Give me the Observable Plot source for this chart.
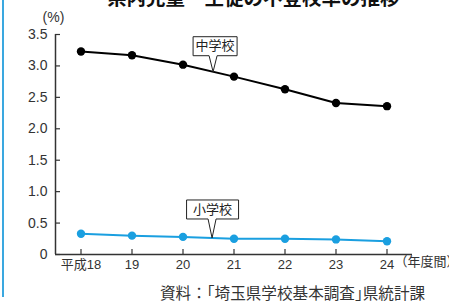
<!DOCTYPE html>
<html><head><meta charset="utf-8">
<script src="https://cdn.jsdelivr.net/npm/d3@7"></script>
<script src="https://cdn.jsdelivr.net/npm/@observablehq/plot@0.6"></script>
<style>
body{margin:0;width:449px;height:302px;overflow:hidden;position:relative;background:#fff;font-family:"Liberation Sans","Noto Sans CJK JP",sans-serif;}
#edge{position:absolute;left:2px;top:0;width:2px;height:297px;background:#3aa8e0;}
#title{position:absolute;left:107px;top:-18px;font-weight:bold;font-size:19.5px;font-family:"Noto Sans CJK JP";white-space:nowrap;color:#111;}
#chart{position:absolute;left:0;top:0;}
#caption{position:absolute;left:160px;top:281px;font-size:15.6px;font-family:"Noto Sans CJK JP";color:#333;white-space:nowrap;}
#caption .tight{font-feature-settings:"halt" 1;}
</style></head>
<body>
<div id="edge"></div>
<div id="title">県内児童・生徒の不登校率の推移</div>
<div id="chart"></div>
<div id="caption">資料：「埼玉県学校基本調査<span class="tight">」</span>県統計課</div>
<script>
const years = [18, 19, 20, 21, 22, 23, 24];
const juniorHigh = [3.23, 3.17, 3.02, 2.83, 2.63, 2.41, 2.36];
const elementary = [0.33, 0.30, 0.28, 0.25, 0.25, 0.24, 0.21];
const seriesNames = ["中学校", "小学校"];
const seriesColors = ["#000000", "#1a9fe0"];
const yTicks = [0, 0.5, 1, 1.5, 2, 2.5, 3, 3.5];
const yTickLabels = ["0", "0.5", "1.0", "1.5", "2.0", "2.5", "3.0", "3.5"];
const xTickLabels = ["平成18", "19", "20", "21", "22", "23", "24"];
const calloutYears = [20.59, 20.57];

const seriesValues = [juniorHigh, elementary];
const data = [];
seriesNames.forEach((s, k) => years.forEach((yr, i) => data.push({series: s, year: yr, value: seriesValues[k][i]})));

// callout anchor points sit on each series line
const callouts = seriesNames.map((s, k) => {
  const xv = calloutYears[k];
  const vals = seriesValues[k];
  const i = years.findIndex((y, j) => j < years.length - 1 && xv >= y && xv <= years[j + 1]);
  const t = (xv - years[i]) / (years[i + 1] - years[i]);
  return {series: s, year: xv, value: vals[i] + t * (vals[i + 1] - vals[i])};
});

// callout box shape (pixels, relative to the anchor point on the line)
const calloutStyle = [
  {w: 44, h: 19, tail: 16, half: 4, offX: 2},
  {w: 52, h: 19, tail: 19, half: 4, offX: 0.5}
];
function calloutSymbol({w, h, tail, half, offX}) {
  return {
    draw(ctx) {
      const b = -tail;
      ctx.moveTo(0, 0);
      ctx.lineTo(half, b);
      ctx.lineTo(offX + w / 2, b);
      ctx.lineTo(offX + w / 2, b - h);
      ctx.lineTo(offX - w / 2, b - h);
      ctx.lineTo(offX - w / 2, b);
      ctx.lineTo(-half, b);
      ctx.closePath();
    }
  };
}
const calloutMarks = callouts.flatMap((c, k) => {
  const st = calloutStyle[k];
  return [
    Plot.dot([c], {x: "year", y: "value", symbol: calloutSymbol(st), r: 5, fill: "white", stroke: "#222", strokeWidth: 1}),
    Plot.text([c], {x: "year", y: "value", text: "series", dx: st.offX, dy: -(st.tail + st.h / 2), fontSize: 13, fill: "#222", fontFamily: "Noto Sans CJK JP"})
  ];
});

const font = '"Liberation Sans","Noto Sans CJK JP",sans-serif';
const plot = Plot.plot({
  width: 449, height: 280,
  marginTop: 34, marginBottom: 26, marginLeft: 55, marginRight: 37,
  x: {domain: [17.5, 24.5]},
  y: {domain: [0, 3.5]},
  color: {domain: seriesNames, range: seriesColors},
  style: {fontFamily: font, fontSize: "14px", color: "#333", background: "transparent", overflow: "visible"},
  marks: [
    Plot.axisY({ticks: yTicks, tickFormat: d => yTickLabels[yTicks.indexOf(d)], tickSize: -5, tickPadding: 13, fontSize: 14, label: null, stroke: "#333", strokeWidth: 1.2}),
    Plot.axisX({ticks: years, tickFormat: d => xTickLabels[years.indexOf(d)], tickSize: -5, tickPadding: 10, fontSize: 13, label: null, stroke: "#333", strokeWidth: 1.2}),
    Plot.ruleX([17.5], {stroke: "#333", strokeWidth: 1.5}),
    Plot.ruleY([0], {stroke: "#333", strokeWidth: 1.5}),
    Plot.line(data, {x: "year", y: "value", z: "series", stroke: "series", strokeWidth: 2}),
    Plot.dot(data, {x: "year", y: "value", fill: "series", r: 4.2}),
    ...calloutMarks,
    Plot.text(["(%)"], {text: d => d, frameAnchor: "top-left", dx: -2, dy: -22, textAnchor: "middle", fontSize: 14, fill: "#333"}),
    Plot.text(["（年度間）"], {text: d => d, frameAnchor: "bottom-right", dx: -18, dy: 11, textAnchor: "start", fontSize: 13, fill: "#333", fontFamily: "Noto Sans CJK JP"})
  ]
});
document.getElementById("chart").appendChild(plot);
</script>
</body></html>
